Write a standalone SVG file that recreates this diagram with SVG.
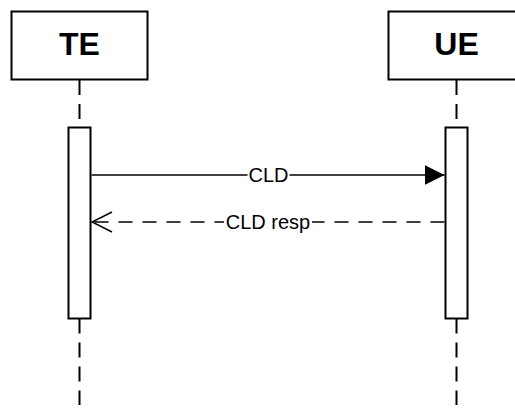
<svg xmlns="http://www.w3.org/2000/svg" width="515" height="413" viewBox="0 0 515 413">
  <style>
    .head { fill: #fff; stroke: #000; stroke-width: 2; }
    .head-label { font-family: "Liberation Sans", Arial, sans-serif; font-weight: bold; font-size: 32px; text-anchor: middle; fill: #000; }
    .life { stroke: #000; stroke-width: 2; stroke-dasharray: 15 9; fill: none; }
    .act { fill: #fff; stroke: #000; stroke-width: 2; }
    .msg { stroke: #000; stroke-width: 1.5; fill: none; }
    .msg-dash { stroke-dasharray: 14 10; }
    .msg-label { font-family: "Liberation Sans", Arial, sans-serif; font-size: 20px; text-anchor: middle; fill: #000; }
  </style>
  <defs>
    <marker id="arrow-filled" viewBox="0 0 20 20" refX="20" refY="10" markerWidth="20" markerHeight="20" markerUnits="userSpaceOnUse" orient="auto">
      <path d="M0,0 L20,10 L0,20 Z" fill="#000"/>
    </marker>
    <marker id="arrow-open" viewBox="0 0 22 22" refX="21" refY="11" markerWidth="22" markerHeight="22" markerUnits="userSpaceOnUse" orient="auto">
      <path d="M1,1 L21,11 L1,21" fill="none" stroke="#000" stroke-width="1.5"/>
    </marker>
  </defs>
  <rect width="515" height="413" fill="#fff"/>

  <!-- TE participant -->
  <g id="te">
    <line class="life" x1="79.5" y1="80" x2="79.5" y2="127"/>
    <line class="life" x1="79.5" y1="318.5" x2="79.5" y2="405"/>
    <rect class="head" x="11.5" y="11.5" width="136" height="68"/>
    <text class="head-label" x="79.5" y="54.5">TE</text>
    <rect class="act" x="68.5" y="127.5" width="22" height="191"/>
  </g>

  <!-- UE participant -->
  <g id="ue">
    <line class="life" x1="456.5" y1="80" x2="456.5" y2="127"/>
    <line class="life" x1="456.5" y1="318.5" x2="456.5" y2="405"/>
    <rect class="head" x="388.5" y="11.5" width="136" height="68"/>
    <text class="head-label" x="456.5" y="54.5">UE</text>
    <rect class="act" x="445.5" y="127.5" width="22" height="191"/>
  </g>

  <!-- messages -->
  <g id="connectors">
    <line class="msg" x1="91.5" y1="175" x2="444.5" y2="175" marker-end="url(#arrow-filled)"/>
    <rect x="247.5" y="164" width="42" height="20" fill="#fff"/>
    <text class="msg-label" x="268.5" y="181.5">CLD</text>

    <line class="msg msg-dash" x1="444.5" y1="222" x2="92" y2="222" marker-end="url(#arrow-open)"/>
    <rect x="224" y="211" width="88" height="22" fill="#fff"/>
    <text class="msg-label" x="268" y="228.5">CLD resp</text>
  </g>
</svg>
